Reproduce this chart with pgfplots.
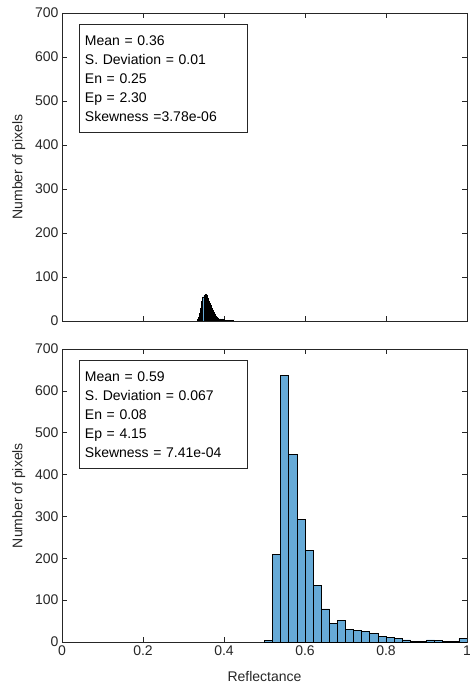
\documentclass[border=0pt]{standalone}
\usepackage{fontspec}
\setmainfont{Liberation Sans}
\usepackage{pgfplots}
\pgfplotsset{compat=1.18}

\definecolor{axgray}{RGB}{38,38,38}
\definecolor{barblue}{RGB}{102,170,215}

\pgfplotsset{
  histax/.style={
    scale only axis,
    width=405pt,
    xmin=0, xmax=1,
    ymin=0, ymax=700,
    xtick={0,0.2,0.4,0.6,0.8,1},
    ytick={0,100,200,300,400,500,600,700},
    tick align=inside,
    tick pos=both,
    major tick length=5pt,
    axis line style={axgray, line width=0.7pt},
    tick style={axgray, line width=0.7pt},
    ticklabel style={text=axgray, font=\fontsize{14}{16}\selectfont},
    /pgf/number format/assume math mode=true,
    label style={text=axgray, font=\fontsize{14}{16}\selectfont},
    ylabel={Number of pixels},
    ylabel style={at={(axis description cs:-0.107,0.5)}, anchor=center, rotate=0},
  },
}
\tikzset{
  statbox/.style={draw=axgray, line width=0.8pt, fill=white, anchor=north west,
    inner xsep=5.5pt, text width=157pt, minimum height=108pt, align=left,
    font=\fontsize{14}{19}\selectfont},
}

\begin{document}
\begin{tikzpicture}
\useasboundingbox (0,0) rectangle (469pt,-687pt);

% top: narrow distribution, fine bins
\begin{axis}[histax, at={(62pt,-13pt)}, anchor=north west, height=308pt,
  xticklabels={}]
\addplot[ybar interval, fill=barblue, draw=black, line width=0.5pt] coordinates {
(0.3350,3) (0.3375,8) (0.3400,18) (0.3425,30) (0.3450,44) (0.3475,55)
(0.3500,59) (0.3525,60) (0.3550,58) (0.3575,52) (0.3600,46) (0.3625,41)
(0.3650,36) (0.3675,30) (0.3700,25) (0.3725,20) (0.3750,15) (0.3775,11)
(0.3800,8) (0.3825,6) (0.3850,5) (0.3875,4) (0.3900,5) (0.3925,4)
(0.3950,5) (0.3975,3) (0.4000,2) (0.4025,2) (0.4050,1) (0.4075,1)
(0.4100,1) (0.4125,1) (0.4150,1) (0.4175,1) (0.4200,1) (0.4225,1)};
\node[statbox] at (rel axis cs:0.042,0.964)
  {Mean = 0.36\\S. Deviation = 0.01\\En = 0.25\\Ep = 2.30\\Skewness =3.78e-06};
\end{axis}

% bottom: wide distribution
\begin{axis}[histax, at={(62pt,-349pt)}, anchor=north west, height=293pt,
  xlabel={Reflectance},
  xlabel style={at={(axis description cs:0.5,-0.119)}, anchor=center}]
\addplot[ybar interval, fill=barblue, draw=black, line width=0.8pt] coordinates {
(0.50,3) (0.52,210) (0.54,637) (0.56,449) (0.58,292) (0.60,218) (0.62,135)
(0.64,79) (0.66,45) (0.68,51) (0.70,31) (0.72,27) (0.74,26) (0.76,21)
(0.78,14) (0.80,11) (0.82,9) (0.84,5) (0.86,2) (0.88,1) (0.90,5) (0.92,3)
(0.94,1) (0.96,1) (0.98,8) (1.00,8)};
\node[statbox] at (rel axis cs:0.042,0.9625)
  {Mean = 0.59\\S. Deviation = 0.067\\En = 0.08\\Ep = 4.15\\Skewness = 7.41e-04};
\end{axis}
\end{tikzpicture}
\end{document}
